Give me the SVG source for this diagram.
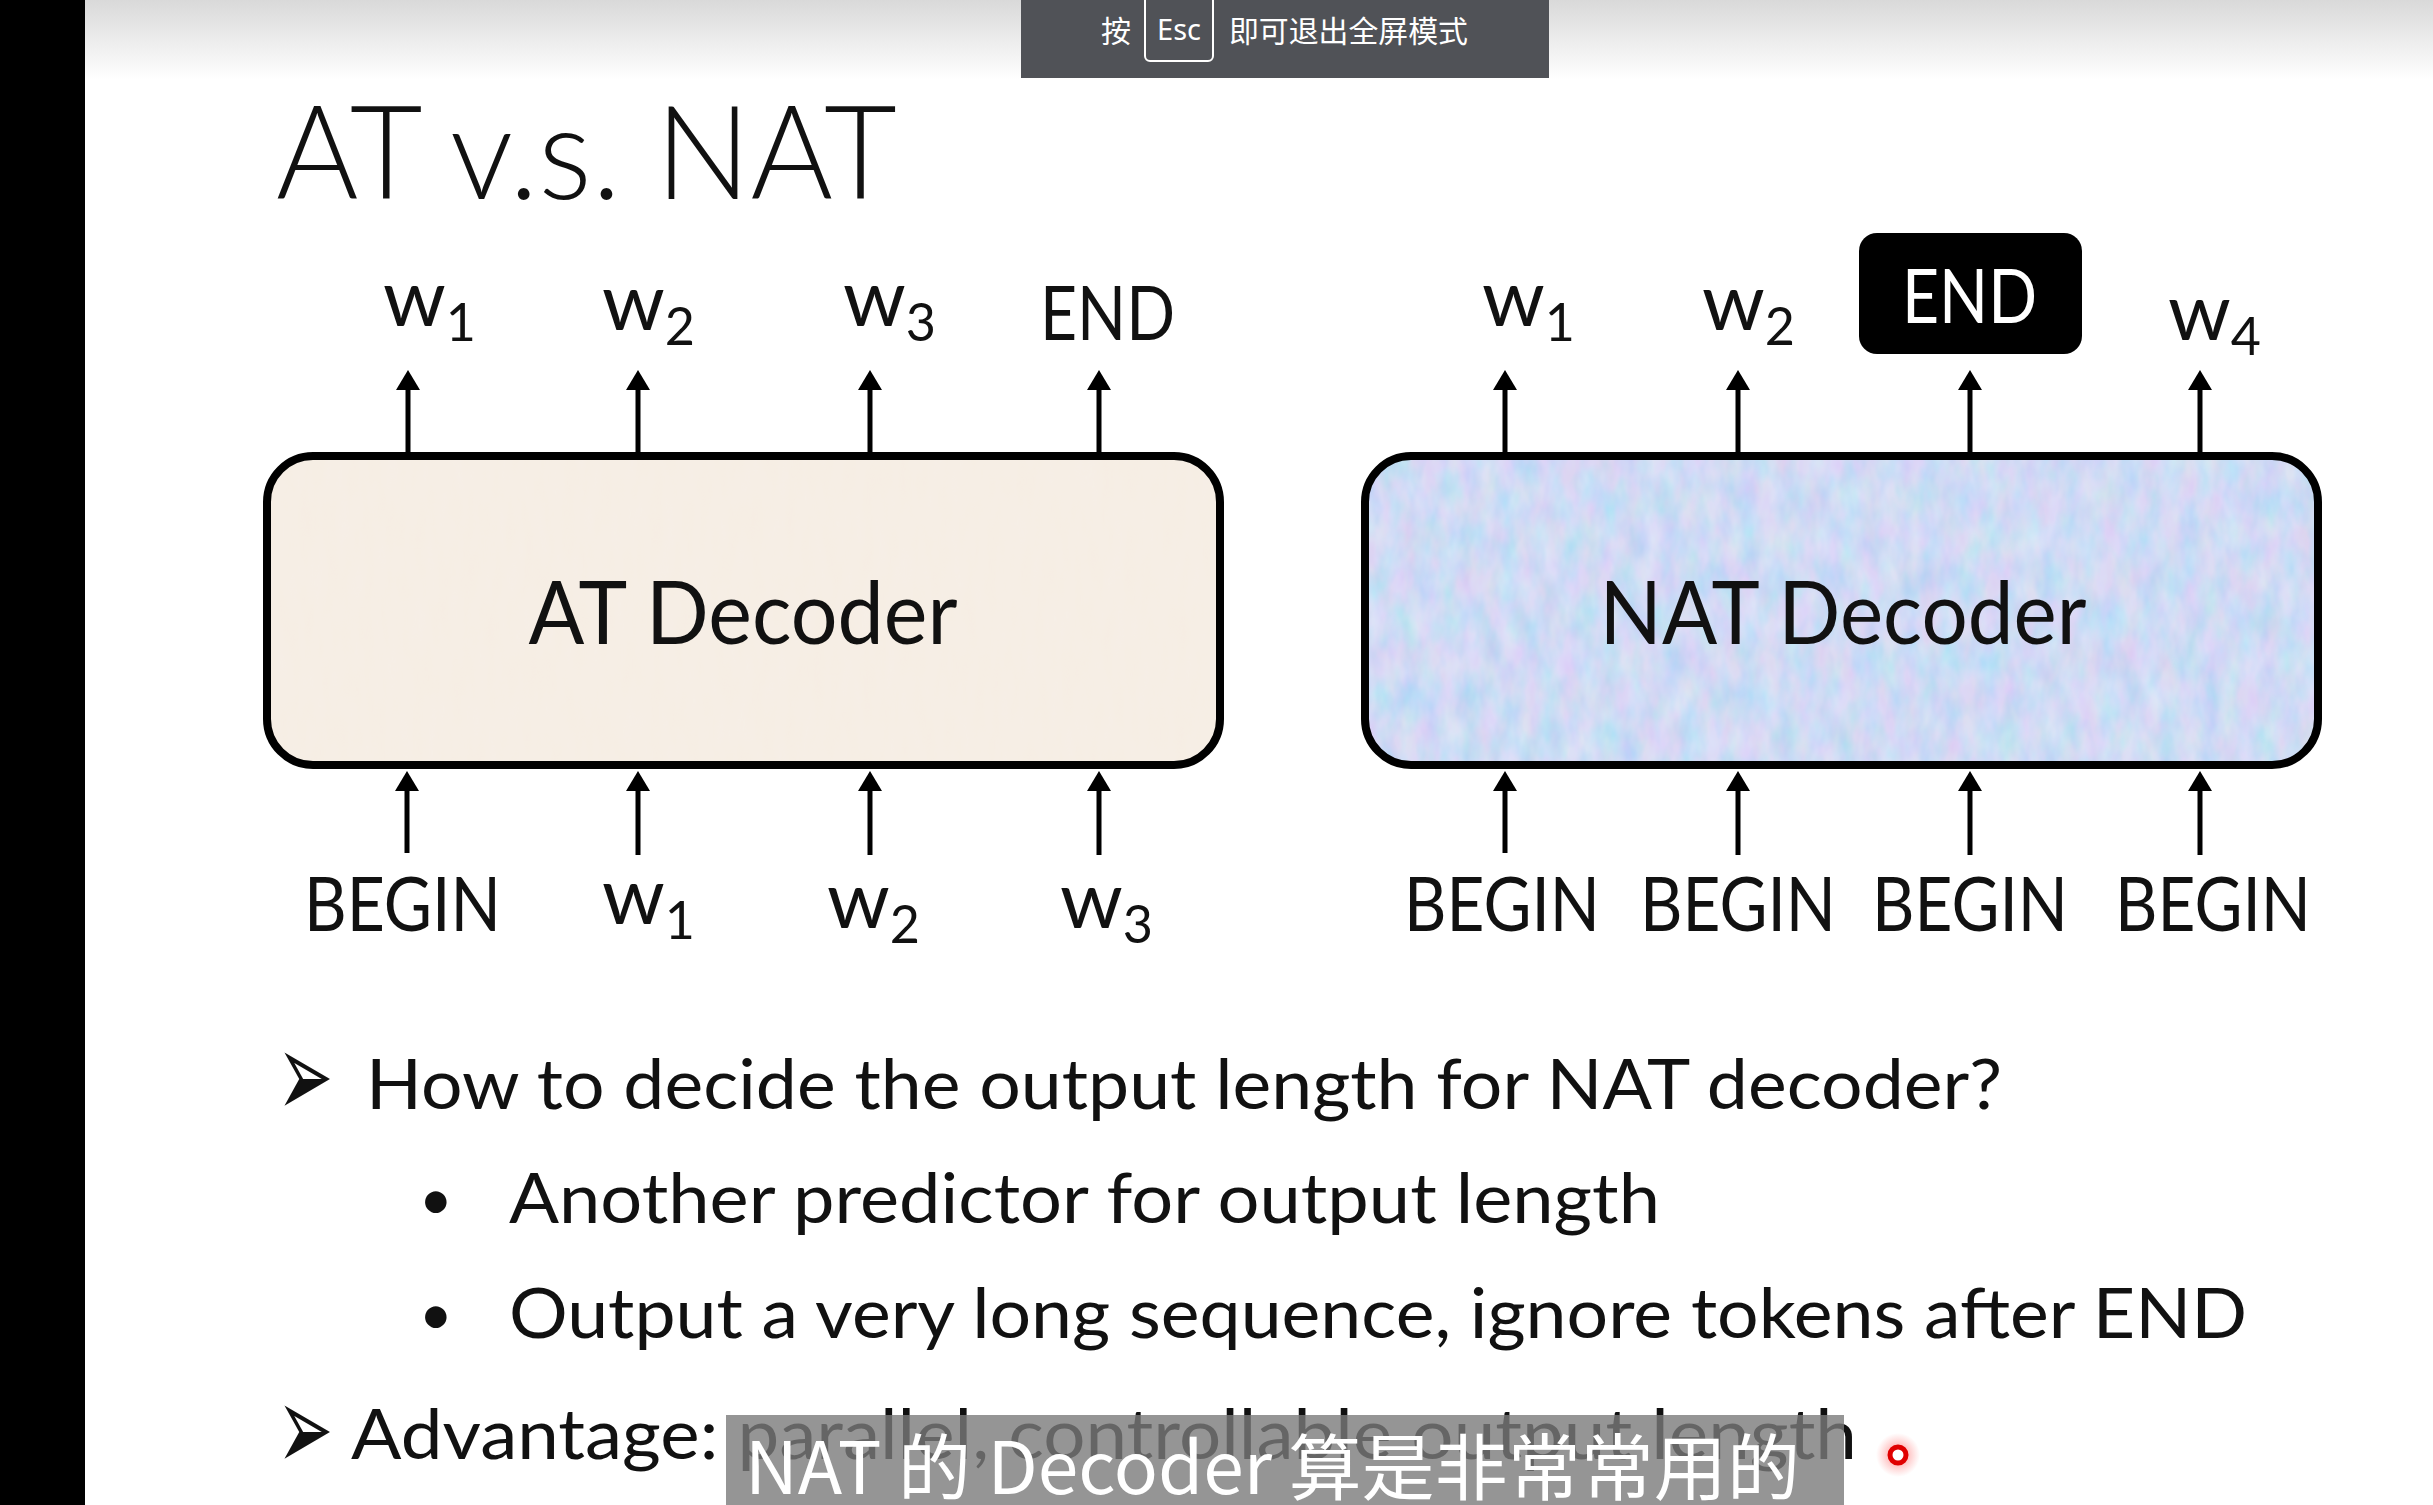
<svg xmlns="http://www.w3.org/2000/svg" width="2433" height="1505" viewBox="0 0 2433 1505">
<style>
.t{font-family:Lato,"Open Sans","Liberation Sans",sans-serif;fill:#111}
.lbl{font-size:76px}
.w{font-size:80px}
.sub{font-size:52px}
.arr{stroke:#000;stroke-width:5;fill:none;marker-end:url(#ah)}
.cjk{font-family:"Noto Sans CJK SC","Noto Sans",sans-serif}
.sym{font-family:"DejaVu Sans",sans-serif;font-size:84px;font-weight:bold;fill:#111}
</style>
<defs>
<marker id="ah" markerUnits="userSpaceOnUse" markerWidth="20" markerHeight="24" refX="10" refY="12" orient="auto" viewBox="0 0 20 24">
<path d="M0,0 L20,12 L0,24 Z" fill="#000"/>
</marker>
<linearGradient id="topg" x1="0" y1="0" x2="0" y2="1">
<stop offset="0" stop-color="#d9d9d9"/>
<stop offset="1" stop-color="#ffffff"/>
</linearGradient>
<filter id="noiseBeige" x="0" y="0" width="100%" height="100%">
<feTurbulence type="fractalNoise" baseFrequency="0.08 0.02" numOctaves="2" seed="3" result="n"/>
<feColorMatrix in="n" type="matrix" values="0 0 0 0 0.93  0 0 0 0 0.88  0 0 0 0 0.82  0 0 0 0.5 0" result="c"/>
<feComposite in="c" in2="SourceGraphic" operator="in" result="cc"/>
<feMerge><feMergeNode in="SourceGraphic"/><feMergeNode in="cc"/></feMerge>
</filter>
<filter id="noiseBlue" x="0" y="0" width="100%" height="100%">
<feTurbulence type="fractalNoise" baseFrequency="0.05 0.025" numOctaves="3" seed="7" result="n"/>
<feColorMatrix in="n" type="matrix" values="1.0 0 0 0 0.3  0 0.5 0 0 0.55  0 0 0.3 0 0.78  0 0 0 0 0.45" result="c"/>
<feComposite in="c" in2="SourceGraphic" operator="in" result="cc"/>
<feMerge><feMergeNode in="SourceGraphic"/><feMergeNode in="cc"/></feMerge>
</filter>
<radialGradient id="glow">
<stop offset="0" stop-color="#ff3030" stop-opacity="0.6"/>
<stop offset="1" stop-color="#ff6060" stop-opacity="0"/>
</radialGradient>
</defs>

<rect x="0" y="0" width="2433" height="1505" fill="#fff"/>
<rect x="85" y="0" width="2348" height="80" fill="url(#topg)"/>
<rect x="0" y="0" width="85" height="1505" fill="#000"/>

<g id="title">
<text class="t" x="276" y="199" font-size="131" font-weight="300" textLength="621" lengthAdjust="spacingAndGlyphs">AT v.s. NAT</text>
</g>

<g id="at-decoder">
<rect x="267" y="456" width="953" height="309" rx="46" fill="#f6ede3" filter="url(#noiseBeige)"/>
<rect x="267" y="456" width="953" height="309" rx="46" fill="none" stroke="#000" stroke-width="8"/>
<text class="t" x="743" y="644" font-size="87" text-anchor="middle" textLength="429" lengthAdjust="spacingAndGlyphs">AT Decoder</text>
</g>

<g id="nat-decoder">
<rect x="1365" y="456" width="953" height="309" rx="46" fill="#bad0f3" filter="url(#noiseBlue)"/>
<rect x="1365" y="456" width="953" height="309" rx="46" fill="none" stroke="#000" stroke-width="8"/>
<text class="t" x="1843" y="644" font-size="87" text-anchor="middle" textLength="487" lengthAdjust="spacingAndGlyphs">NAT Decoder</text>
</g>

<g id="at-outputs">
<text class="t w" x="383" y="326">w<tspan class="sub" dy="15">1</tspan></text>
<text class="t w" x="602" y="330">w<tspan class="sub" dy="15">2</tspan></text>
<text class="t w" x="843" y="326">w<tspan class="sub" dy="15">3</tspan></text>
<text class="t lbl" x="1040" y="340" textLength="135" lengthAdjust="spacingAndGlyphs">END</text>
</g>

<g id="nat-outputs">
<text class="t w" x="1482" y="326">w<tspan class="sub" dy="15">1</tspan></text>
<text class="t w" x="1702" y="330">w<tspan class="sub" dy="15">2</tspan></text>
<g id="end-box">
<rect x="1859" y="233" width="223" height="121" rx="18" fill="#000"/>
<text class="t lbl" x="1902" y="323" style="fill:#fff" textLength="135" lengthAdjust="spacingAndGlyphs">END</text>
</g>
<text class="t w" x="2168" y="340">w<tspan class="sub" dy="15">4</tspan></text>
</g>

<g id="at-inputs">
<text class="t lbl" x="304" y="931" textLength="197" lengthAdjust="spacingAndGlyphs">BEGIN</text>
<text class="t w" x="602" y="924">w<tspan class="sub" dy="15">1</tspan></text>
<text class="t w" x="827" y="928">w<tspan class="sub" dy="15">2</tspan></text>
<text class="t w" x="1060" y="928">w<tspan class="sub" dy="15">3</tspan></text>
</g>

<g id="nat-inputs">
<text class="t lbl" x="1404" y="931" textLength="196" lengthAdjust="spacingAndGlyphs">BEGIN</text>
<text class="t lbl" x="1640" y="931" textLength="196" lengthAdjust="spacingAndGlyphs">BEGIN</text>
<text class="t lbl" x="1872" y="931" textLength="196" lengthAdjust="spacingAndGlyphs">BEGIN</text>
<text class="t lbl" x="2115" y="931" textLength="196" lengthAdjust="spacingAndGlyphs">BEGIN</text>
</g>

<g id="connectors">
<line class="arr" x1="408" y1="456" x2="408" y2="380"/>
<line class="arr" x1="638" y1="456" x2="638" y2="380"/>
<line class="arr" x1="870" y1="456" x2="870" y2="380"/>
<line class="arr" x1="1099" y1="456" x2="1099" y2="380"/>
<line class="arr" x1="1505" y1="456" x2="1505" y2="380"/>
<line class="arr" x1="1738" y1="456" x2="1738" y2="380"/>
<line class="arr" x1="1970" y1="456" x2="1970" y2="380"/>
<line class="arr" x1="2200" y1="456" x2="2200" y2="380"/>
<line class="arr" x1="407" y1="853" x2="407" y2="781"/>
<line class="arr" x1="638" y1="855" x2="638" y2="781"/>
<line class="arr" x1="870" y1="855" x2="870" y2="781"/>
<line class="arr" x1="1099" y1="855" x2="1099" y2="781"/>
<line class="arr" x1="1505" y1="853" x2="1505" y2="781"/>
<line class="arr" x1="1738" y1="855" x2="1738" y2="781"/>
<line class="arr" x1="1970" y1="855" x2="1970" y2="781"/>
<line class="arr" x1="2200" y1="855" x2="2200" y2="781"/>
</g>

<g id="bullets">
<text class="sym" transform="translate(277,1117) scale(0.8,1.44)" x="0" y="0">➢</text>
<text class="t" x="366" y="1109" font-size="70" textLength="1636" lengthAdjust="spacingAndGlyphs">How to decide the output length for NAT decoder?</text>
<text class="t" x="419" y="1220" font-size="58">•</text>
<text class="t" x="509" y="1223" font-size="70" textLength="1151" lengthAdjust="spacingAndGlyphs">Another predictor for output length</text>
<text class="t" x="419" y="1335" font-size="58">•</text>
<text class="t" x="509" y="1338" font-size="70" textLength="1738" lengthAdjust="spacingAndGlyphs">Output a very long sequence, ignore tokens after END</text>
<text class="sym" transform="translate(277,1470) scale(0.8,1.44)" x="0" y="0">➢</text>
<text class="t" x="351" y="1459" font-size="70" textLength="1506" lengthAdjust="spacingAndGlyphs">Advantage: parallel, controllable output length</text>
</g>

<g id="subtitle">
<rect x="726" y="1415" width="1118" height="90" fill="#7a7a7a" fill-opacity="0.8"/>
<text class="cjk" x="745" y="1494" font-size="72" fill="#fff" textLength="1055" lengthAdjust="spacingAndGlyphs">NAT 的 Decoder 算是非常常用的</text>
</g>

<g id="pointer">
<circle cx="1898" cy="1455" r="22" fill="url(#glow)"/>
<circle cx="1898" cy="1455" r="8" fill="#fff" stroke="#e00000" stroke-width="5"/>
</g>

<g id="esc-bar">
<rect x="1021" y="0" width="528" height="78" fill="#505257"/>
<text class="cjk" x="1101" y="42" font-size="30" fill="#fff">按</text>
<path d="M1145,0 V56 a5,5 0 0 0 5,5 H1208 a5,5 0 0 0 5,-5 V0" fill="none" stroke="#fff" stroke-width="2"/>
<text x="1179" y="40" font-family="'Noto Sans','Open Sans',sans-serif" font-size="29" fill="#fff" text-anchor="middle">Esc</text>
<text class="cjk" x="1229" y="42" font-size="30" fill="#fff" textLength="239" lengthAdjust="spacingAndGlyphs">即可退出全屏模式</text>
</g>
</svg>
